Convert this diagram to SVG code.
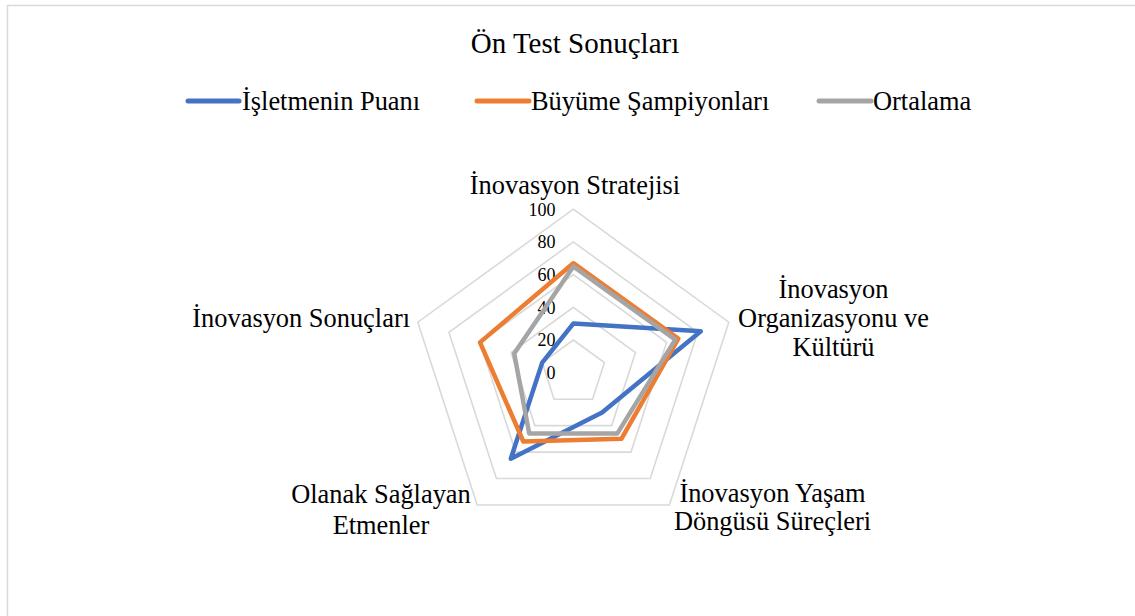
<svg xmlns="http://www.w3.org/2000/svg" width="1135" height="616" viewBox="0 0 1135 616" font-family="'Liberation Serif', 'DejaVu Serif', serif">
<style>
text{font-family:'Liberation Serif','DejaVu Serif',serif;fill:#000}
.title{font-size:29px}
.lg{font-size:26.4px}
.ax{font-size:26.4px;text-anchor:middle}
.tick{font-size:18px;text-anchor:end}
.grid{fill:none;stroke:#d9d9d9;stroke-width:1.6}
.ser{fill:none;stroke-width:4.5;stroke-linejoin:round}
.leg{stroke-width:5;stroke-linecap:round}
</style>
<rect x="0" y="0" width="1135" height="616" fill="#fff"/>
<rect x="7.5" y="5.5" width="1140" height="620" fill="none" stroke="#d9d9d9" stroke-width="1.5"/>
<g id="title"><text class="title" x="575" y="53" text-anchor="middle">Ön Test Sonuçları</text></g>
<g id="legend">
<line class="leg" x1="188" y1="101" x2="239" y2="101" stroke="#4472C4"/>
<text class="lg" x="242" y="110">İşletmenin Puanı</text>
<line class="leg" x1="477" y1="101" x2="529" y2="101" stroke="#ED7D31"/>
<text class="lg" x="531" y="110">Büyüme Şampiyonları</text>
<line class="leg" x1="819" y1="101" x2="871" y2="101" stroke="#A5A5A5"/>
<text class="lg" x="873" y="110">Ortalama</text>
</g>
<g id="grid" transform="translate(573.3,372.7)">
<polygon class="grid" points="0,-163.5 155.5,-50.5 96.1,132.3 -96.1,132.3 -155.5,-50.5"/>
<polygon class="grid" points="0,-130.8 124.4,-40.4 76.9,105.8 -76.9,105.8 -124.4,-40.4"/>
<polygon class="grid" points="0,-98.1 93.3,-30.3 57.7,79.4 -57.7,79.4 -93.3,-30.3"/>
<polygon class="grid" points="0,-65.4 62.2,-20.2 38.4,52.9 -38.4,52.9 -62.2,-20.2"/>
<polygon class="grid" points="0,-32.7 31.1,-10.1 19.2,26.5 -19.2,26.5 -31.1,-10.1"/>
</g>
<g id="ticks">
<text class="tick" x="555.5" y="215.5">100</text>
<text class="tick" x="555.5" y="248">80</text>
<text class="tick" x="555.5" y="281">60</text>
<text class="tick" x="555.5" y="313.5">40</text>
<text class="tick" x="555.5" y="346">20</text>
<text class="tick" x="555.5" y="378.5">0</text>
</g>
<g id="series" transform="translate(573.3,372.7)">
<polygon id="s-isletme" class="ser" stroke="#4472C4" points="0,-49.1 127.5,-41.4 28.8,39.7 -62.5,86 -31.1,-10.1"/>
<polygon id="s-buyume" class="ser" stroke="#ED7D31" points="0,-109.5 105,-34.1 48.1,66.1 -50,68.8 -93.3,-30.3"/>
<polygon id="s-ortalama" class="ser" stroke="#A5A5A5" points="0,-106.3 102,-33.1 44.1,60.7 -44.1,60.7 -59.1,-19.2"/>
</g>
<g id="axis-labels">
<text class="ax" x="575" y="194">İnovasyon Stratejisi</text>
<text class="ax" x="833.5" y="298">İnovasyon</text>
<text class="ax" x="833.5" y="327">Organizasyonu ve</text>
<text class="ax" x="833.5" y="356">Kültürü</text>
<text class="ax" x="772.5" y="502">İnovasyon Yaşam</text>
<text class="ax" x="772.5" y="530">Döngüsü Süreçleri</text>
<text class="ax" x="381" y="503">Olanak Sağlayan</text>
<text class="ax" x="381" y="534">Etmenler</text>
<text x="410" y="327" style="font-size:26.4px;text-anchor:end">İnovasyon Sonuçları</text>
</g>
</svg>
